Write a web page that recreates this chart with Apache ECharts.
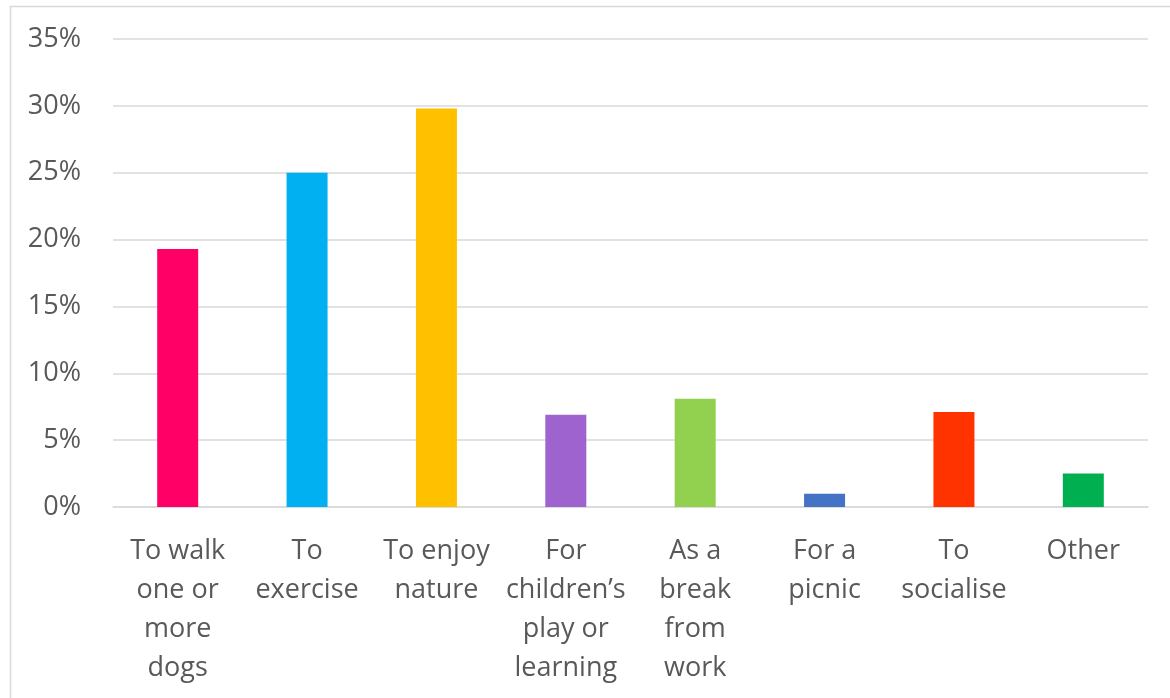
<!DOCTYPE html>
<html>
<head>
<meta charset="utf-8">
<script src="https://cdn.jsdelivr.net/npm/echarts@6/dist/echarts.min.js"></script>
<style>
html,body{margin:0;padding:0;background:#fff;}
#c{width:1170px;height:698px;}
</style>
</head>
<body>
<div id="c"></div>
<script>
const categories = [
  "To walk\none or\nmore\ndogs",
  "To\nexercise",
  "To enjoy\nnature",
  "For\nchildren\u2019s\nplay or\nlearning",
  "As a\nbreak\nfrom\nwork",
  "For a\npicnic",
  "To\nsocialise",
  "Other"
];
const values = [19.3, 25.0, 29.8, 6.9, 8.1, 1.0, 7.1, 2.5];
const barColors = ["#ff0066", "#00b0f0", "#ffc000", "#9e63cf", "#92d050", "#4472c4", "#ff3300", "#00b050"];
const yTicks = { min: 0, max: 35, interval: 5 };

const chart = echarts.init(document.getElementById('c'), null, { renderer: 'canvas' });
chart.setOption({
  animation: false,
  backgroundColor: '#ffffff',
  textStyle: { fontFamily: 'Open Sans' },
  graphic: [{
    type: 'rect',
    shape: { x: 10.5, y: 6.5, width: 1400, height: 1000 },
    style: { fill: 'none', stroke: '#d9d9d9', lineWidth: 1.5 },
    silent: true
  }],
  grid: { left: 113, right: 22, top: 39, bottom: 191, containLabel: false },
  xAxis: {
    type: 'category',
    data: categories,
    axisLine: { show: true, lineStyle: { color: '#d9d9d9', width: 1.5 } },
    axisTick: { show: false },
    axisLabel: {
      interval: 0,
      color: '#595959',
      fontSize: 27,
      lineHeight: 39,
      margin: 25,
      fontFamily: 'Open Sans',
      align: 'center'
    }
  },
  yAxis: {
    type: 'value',
    min: yTicks.min,
    max: yTicks.max,
    interval: yTicks.interval,
    axisLine: { show: false },
    axisTick: { show: false },
    splitLine: { lineStyle: { color: '#d9d9d9', width: 1.5 } },
    axisLabel: {
      color: '#595959',
      fontSize: 27,
      margin: 32,
      fontFamily: 'Open Sans',
      formatter: v => v + '%'
    }
  },
  series: [{
    type: 'bar',
    data: values.map((v, i) => ({ value: v, itemStyle: { color: barColors[i] } })),
    barWidth: 41
  }]
});
</script>
</body>
</html>
